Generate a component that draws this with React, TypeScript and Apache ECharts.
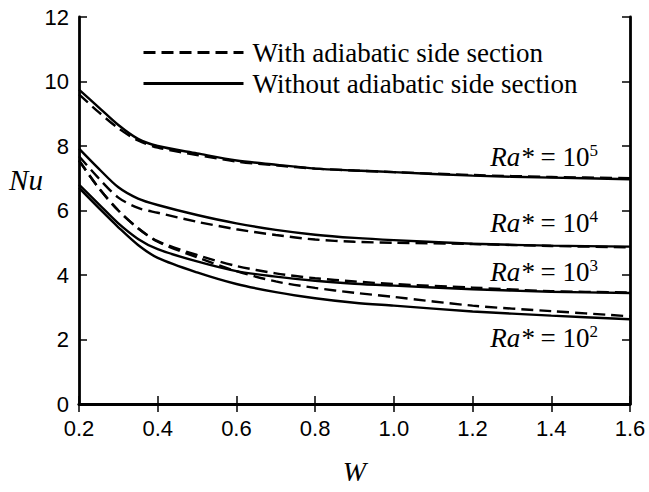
import React, { useEffect, useRef } from "react";
import * as echarts from "echarts";

const wValues = [0.2, 0.25, 0.3, 0.35, 0.4, 0.5, 0.6, 0.7, 0.8, 0.9, 1.0, 1.2, 1.4, 1.6];

const ra5Dashed = [9.6, 9.05, 8.55, 8.17, 7.95, 7.72, 7.52, 7.4, 7.3, 7.24, 7.19, 7.1, 7.04, 7.0];
const ra5Solid = [9.75, 9.2, 8.65, 8.22, 8.0, 7.77, 7.55, 7.42, 7.3, 7.24, 7.19, 7.08, 7.02, 6.97];
const ra4Dashed = [7.68, 7.0, 6.4, 6.08, 5.93, 5.65, 5.42, 5.24, 5.1, 5.03, 5.0, 4.96, 4.9, 4.86];
const ra4Solid = [7.92, 7.3, 6.72, 6.37, 6.17, 5.86, 5.6, 5.4, 5.25, 5.15, 5.08, 4.97, 4.91, 4.88];
const ra3Dashed = [7.55, 6.7, 6.0, 5.45, 5.05, 4.62, 4.28, 4.05, 3.9, 3.8, 3.72, 3.61, 3.5, 3.46];
const ra3Solid = [6.8, 6.2, 5.6, 5.12, 4.8, 4.42, 4.12, 3.95, 3.82, 3.73, 3.67, 3.56, 3.48, 3.44];
const ra2Dashed = [7.55, 6.7, 6.0, 5.45, 5.03, 4.55, 4.12, 3.8, 3.6, 3.45, 3.32, 3.05, 2.88, 2.72];
const ra2Solid = [6.7, 6.08, 5.48, 4.93, 4.53, 4.08, 3.72, 3.47, 3.28, 3.14, 3.05, 2.87, 2.74, 2.63];

const legendNames = ["With adiabatic side section", "Without adiabatic side section"];
const raLabels = [
  { exp: "5", y: 157 },
  { exp: "4", y: 223 },
  { exp: "3", y: 272 },
  { exp: "2", y: 338 },
];

const xTicks = { min: 0.2, max: 1.6, interval: 0.2 };
const yTicks = { min: 0, max: 12, interval: 2 };

const dashedSets = [ra5Dashed, ra4Dashed, ra3Dashed, ra2Dashed];
const solidSets = [ra5Solid, ra4Solid, ra3Solid, ra2Solid];

export default function App() {
  const ref = useRef<HTMLDivElement>(null);
  useEffect(() => {
    if (!ref.current) return;
    const chart = echarts.init(ref.current, undefined, { renderer: "svg" });
    const mk = (vals: number[], dashed: boolean) => ({
      type: "line",
      name: dashed ? legendNames[0] : legendNames[1],
      data: wValues.map((w, i) => [w, vals[i]]),
      symbol: "none",
      showSymbol: false,
      smooth: 0.3,
      xAxisIndex: 0,
      yAxisIndex: 0,
      lineStyle: { color: "#000", width: 2.4, type: dashed ? [12, 6] : "solid" },
      itemStyle: { color: "#000" },
      z: 3,
    });
    const series = [
      ...dashedSets.map((s) => mk(s, true)),
      ...solidSets.map((s) => mk(s, false)),
    ];
    const axisLine = { show: true, lineStyle: { color: "#000", width: 2.8 } };
    const axisTick = { show: true, inside: true, length: 8, lineStyle: { color: "#000", width: 1.5 } };
    const tickFont = { fontFamily: "Liberation Sans", fontSize: 22, color: "#000" };
    const option: any = {
      animation: false,
      backgroundColor: "#fff",
      grid: { left: 79, right: 19, top: 17, bottom: 88 },
      legend: {
        data: legendNames,
        orient: "vertical",
        left: 137,
        top: 34,
        itemWidth: 100,
        itemHeight: 14,
        itemGap: 4,
        selectedMode: false,
        itemStyle: { opacity: 0 },
        lineStyle: { width: 3 },
        textStyle: {
          fontFamily: "Liberation Serif",
          fontSize: 27,
          lineHeight: 27,
          color: "#000",
          padding: [0, 0, 0, 4],
        },
      },
      xAxis: [
        {
          type: "value",
          ...xTicks,
          axisLine,
          axisTick,
          splitLine: { show: false },
          axisLabel: { ...tickFont, margin: 13, formatter: (v: number) => v.toFixed(1) },
          name: "W",
          nameLocation: "middle",
          nameGap: 53,
          nameTextStyle: { fontFamily: "Liberation Serif", fontStyle: "italic", fontSize: 28, color: "#000" },
        },
        {
          type: "value",
          position: "top",
          ...xTicks,
          axisLine,
          axisTick,
          splitLine: { show: false },
          axisLabel: { show: false },
        },
      ],
      yAxis: [
        {
          type: "value",
          ...yTicks,
          axisLine,
          axisTick,
          splitLine: { show: false },
          axisLabel: { ...tickFont, margin: 10 },
        },
        {
          type: "value",
          position: "right",
          ...yTicks,
          axisLine,
          axisTick,
          splitLine: { show: false },
          axisLabel: { show: false },
        },
      ],
      graphic: [
        {
          type: "text",
          x: 26,
          y: 180,
          style: {
            text: "Nu",
            fontFamily: "Liberation Serif",
            fontStyle: "italic",
            fontSize: 29,
            fill: "#000",
            align: "center",
            verticalAlign: "middle",
          },
        },
        ...raLabels.map((r) => ({
          type: "text",
          x: 598,
          y: r.y,
          style: {
            text: `{i|Ra*}{n| = 10}{s|${r.exp}}`,
            align: "right",
            verticalAlign: "middle",
            fill: "#000",
            rich: {
              i: { fontFamily: "Liberation Serif", fontStyle: "italic", fontSize: 27, lineHeight: 30, fill: "#000" },
              n: { fontFamily: "Liberation Serif", fontSize: 27, lineHeight: 30, fill: "#000" },
              s: { fontFamily: "Liberation Serif", fontSize: 17, lineHeight: 30, verticalAlign: "top", fill: "#000" },
            },
          },
        })),
      ],
      series,
    };
    chart.setOption(option);
    return () => chart.dispose();
  }, []);
  return <div ref={ref} style={{ width: 649, height: 492, position: "absolute", left: 0, top: 0 }} />;
}
